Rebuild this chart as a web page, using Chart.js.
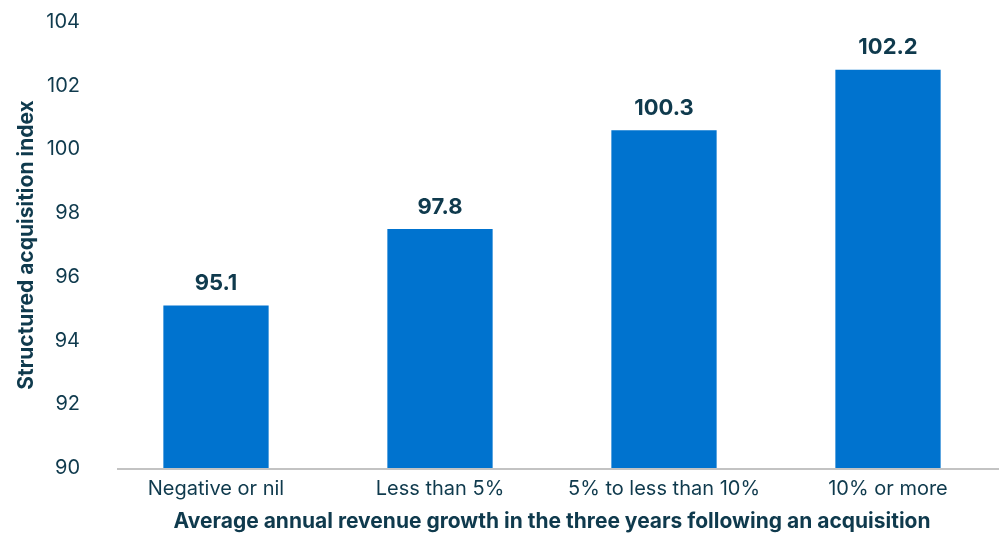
<!DOCTYPE html>
<html>
<head>
<meta charset="utf-8">
<script src="https://cdn.jsdelivr.net/npm/chart.js@4.4.1/dist/chart.umd.min.js"></script>
<style>
  html, body { margin: 0; padding: 0; background: #fff; }
  #wrap { width: 1000px; height: 534px; }
</style>
</head>
<body>
<div id="wrap"><canvas id="growthChart" width="1000" height="534"></canvas></div>
<script>
// categories and values
const categories = ['Negative or nil', 'Less than 5%', '5% to less than 10%', '10% or more'];
const indexValues = [95.1, 97.5, 100.6, 102.5];
const valueLabels = ['95.1', '97.8', '100.3', '102.2'];
const yTicks = [90, 92, 94, 96, 98, 100, 102, 104];

const textColor = '#0f3a4d';
const barColor = '#0073cf';

// numbers above the bars
const barLabels = {
    id: 'barLabels',
    afterDatasetsDraw(chart) {
        const ctx = chart.ctx;
        const meta = chart.getDatasetMeta(0);
        ctx.save();
        ctx.font = 'bold 22px Inter';
        ctx.fillStyle = textColor;
        ctx.textAlign = 'center';
        ctx.textBaseline = 'middle';
        meta.data.forEach(function(bar, i) {
            ctx.fillText(valueLabels[i], bar.x, bar.y - 22);
        });
        ctx.restore();
    }
};

// grey baseline, a bit shorter than the category band
const baseLine = {
    id: 'baseLine',
    afterDatasetsDraw(chart) {
        const ctx = chart.ctx;
        const y = chart.scales.y.getPixelForValue(90);
        ctx.save();
        ctx.strokeStyle = '#c3c3c3';
        ctx.lineWidth = 2;
        ctx.beginPath();
        ctx.moveTo(117, y + 1);
        ctx.lineTo(999, y + 1);
        ctx.stroke();
        ctx.restore();
    }
};

const ctx = document.getElementById('growthChart').getContext('2d');
new Chart(ctx, {
    type: 'bar',
    data: {
        labels: categories,
        datasets: [{
            data: indexValues,
            backgroundColor: barColor,
            borderWidth: 0,
            barPercentage: 0.47,
            categoryPercentage: 1
        }]
    },
    options: {
        responsive: false,
        animation: false,
        layout: { padding: { top: 22, right: -12, bottom: 0, left: 0 } },
        plugins: {
            legend: { display: false },
            tooltip: { enabled: false }
        },
        scales: {
            x: {
                grid: { display: false, drawTicks: false },
                border: { display: false },
                ticks: {
                    color: textColor,
                    font: { family: 'Inter', size: 20 },
                    padding: 9,
                    maxRotation: 0
                },
                title: {
                    display: true,
                    text: 'Average annual revenue growth in the three years following an acquisition',
                    color: textColor,
                    font: { family: 'Inter', size: 21, weight: 'bold', lineHeight: 1.2 },
                    padding: { top: 0, bottom: 0 }
                },
                afterFit(scale) {
                    scale.height = 66;
                    scale.paddingLeft = 0;
                    scale.paddingRight = 0;
                }
            },
            y: {
                min: 90,
                max: 104,
                grid: { display: false, drawTicks: false },
                border: { display: false },
                afterBuildTicks(scale) {
                    scale.ticks = yTicks.map(v => ({ value: v }));
                },
                ticks: {
                    color: textColor,
                    font: { family: 'Inter', size: 20 },
                    padding: 24
                },
                title: {
                    display: true,
                    text: 'Structured acquisition index',
                    color: textColor,
                    font: { family: 'Inter', size: 21, weight: 'bold', lineHeight: 1.2 },
                    padding: { top: 14, bottom: 0 }
                },
                afterFit(scale) {
                    scale.width = 104;
                    scale.paddingTop = 0;
                    scale.paddingBottom = 0;
                }
            }
        }
    },
    plugins: [barLabels, baseLine]
});
</script>
</body>
</html>
